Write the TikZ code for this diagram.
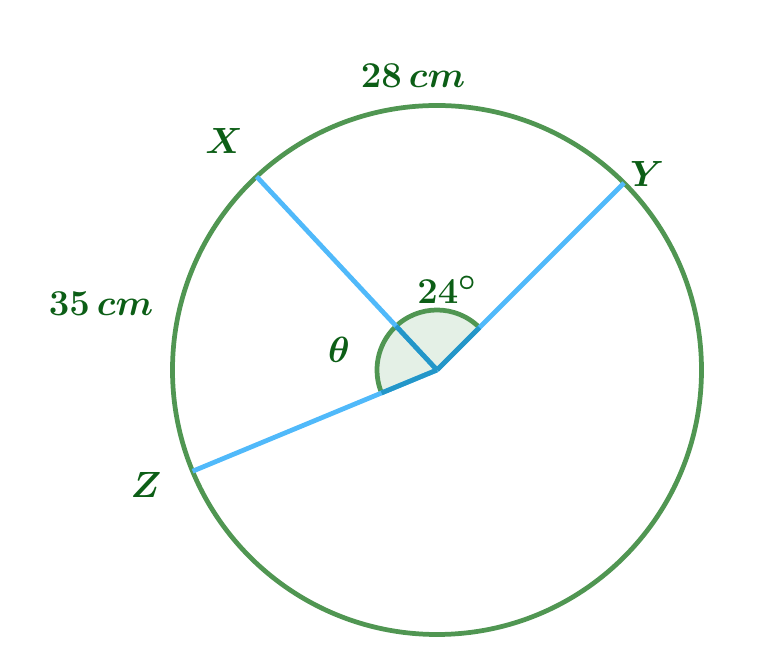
\documentclass[tikz,border=0pt]{standalone}
\usetikzlibrary{calc}
\definecolor{ringgreen}{RGB}{80,150,82}
\definecolor{labelgreen}{RGB}{12,94,22}
\definecolor{spokeblue}{RGB}{80,185,250}
\definecolor{innerblue}{RGB}{35,150,200}
\definecolor{sectorfill}{RGB}{228,240,230}
\newcommand{\ringcolor}{ringgreen}
\newcommand{\thickness}{2.7pt}
\newcommand{\ringradius}{5.29}
\newcommand{\anglerad}{1.2}

\begin{document}
\begin{tikzpicture}[label text/.style={text=labelgreen, font=\fontsize{22.8}{27}\selectfont\boldmath}]
\useasboundingbox (-8.74,-5.92) rectangle (6.9,7.4);
\coordinate (O) at (0,0);
\coordinate (X) at (133:\ringradius);
\coordinate (Y) at (45:\ringradius);
\coordinate (Z) at (202.5:\ringradius);
\coordinate (x) at (133:\anglerad);
\coordinate (y) at (45:\anglerad);
\coordinate (z) at (202.5:\anglerad);
%sector
\fill[sectorfill] (O) -- (y) arc (45:202.5:\anglerad) -- cycle;
\draw[\ringcolor] [line width = \thickness] (y) arc (45:202.5:\anglerad);
%circle
\draw[\ringcolor] [line width = \thickness] (O) circle (\ringradius);
%spokes
\draw[spokeblue] [line width = \thickness] (O) -- (X);
\draw[spokeblue] [line width = \thickness] (O) -- (Y);
\draw[spokeblue] [line width = \thickness] (O) -- (Z);
\draw[innerblue] [line width = \thickness] (O) -- (x);
\draw[innerblue] [line width = \thickness] (O) -- (y);
\draw[innerblue] [line width = \thickness] (O) -- (z);
%labels
\node[label text] (top) at (-0.48,5.88) {$28\,cm$};
\node[label text] (left) at (-6.72,1.32) {$35\,cm$};
\node[label text] (lx) at (-4.26,4.58) {$X$};
\node[label text] (ly) at (4.2,3.92) {$Y$};
\node[label text] (lz) at (-5.82,-2.3) {$Z$};
\node[label text] (deg) at (0.2,1.6) {$24^\circ$};
\node[label text] (theta) at (-1.96,0.4) {$\theta$};
\end{tikzpicture}
\end{document}
